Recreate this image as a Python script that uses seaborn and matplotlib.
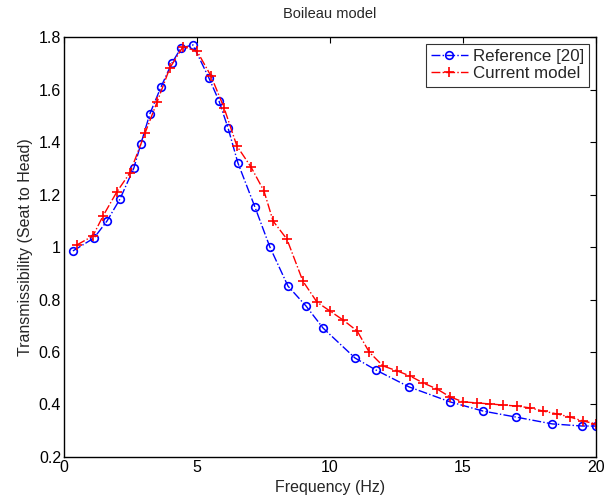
import matplotlib
matplotlib.use("Agg")
import matplotlib.pyplot as plt
import seaborn as sns
import pandas as pd

ref_freq = [0.34, 1.13, 1.62, 2.11, 2.63, 2.89, 3.23, 3.65, 4.06, 4.40, 4.85, 5.45, 5.83,
            6.17, 6.54, 7.18, 7.74, 8.42, 9.10, 9.74, 10.94, 11.73, 12.97, 14.51, 15.75,
            16.99, 18.35, 19.47, 20.0]
ref_trans = [0.985, 1.034, 1.099, 1.183, 1.301, 1.392, 1.507, 1.610, 1.701, 1.758, 1.770,
             1.644, 1.556, 1.453, 1.320, 1.152, 1.000, 0.851, 0.775, 0.691, 0.577, 0.531,
             0.467, 0.410, 0.375, 0.352, 0.326, 0.318, 0.318]

cur_freq = [0.49, 1.09, 1.47, 1.99, 2.48, 3.05, 3.50, 3.98, 4.47, 5.0, 5.53, 6.02, 6.50,
            7.03, 7.52, 7.86, 8.38, 8.98, 9.51, 10.0, 10.49, 11.02, 11.47, 11.99, 12.52,
            13.0, 13.5, 14.02, 14.51, 15.0, 15.53, 16.02, 16.5, 17.03, 17.52, 18.0, 18.53,
            19.02, 19.51, 20.0]
cur_trans = [1.008, 1.042, 1.118, 1.210, 1.282, 1.434, 1.552, 1.682, 1.762, 1.747, 1.651,
             1.530, 1.385, 1.305, 1.213, 1.099, 1.030, 0.870, 0.790, 0.756, 0.722, 0.680,
             0.600, 0.547, 0.528, 0.509, 0.482, 0.459, 0.429, 0.410, 0.406, 0.402, 0.398,
             0.394, 0.387, 0.375, 0.364, 0.352, 0.337, 0.326]

x_ticks = [0, 5, 10, 15, 20]
y_ticks = [0.2, 0.4, 0.6, 0.8, 1.0, 1.2, 1.4, 1.6, 1.8]
y_labels = ["0.2", "0.4", "0.6", "0.8", "1", "1.2", "1.4", "1.6", "1.8"]

sns.set_theme(style="white")
plt.rcParams['font.family'] = ['Liberation Sans', 'DejaVu Sans']

fig = plt.figure(figsize=(6.14, 4.97), dpi=100)
ax = fig.add_axes([0.104, 0.0805, 0.867, 0.845])

df_ref = pd.DataFrame({"f": ref_freq, "t": ref_trans})
df_cur = pd.DataFrame({"f": cur_freq, "t": cur_trans})

sns.lineplot(data=df_ref, x="f", y="t", ax=ax, color="#0000ff", linestyle="-.",
             linewidth=1.0, marker="o", markersize=5.5, markerfacecolor="none",
             markeredgecolor="#0000ff", markeredgewidth=1.2, label="Reference [20]")
sns.lineplot(data=df_cur, x="f", y="t", ax=ax, color="#ff0000", linestyle="-.",
             linewidth=1.0, marker="+", markersize=7, markeredgewidth=1.2,
             markeredgecolor="#ff0000", label="Current model")

ax.set_xlim(0, 20)
ax.set_ylim(0.2, 1.8)
ax.set_xticks(x_ticks)
ax.set_xticklabels([str(v) for v in x_ticks])
ax.set_yticks(y_ticks)
ax.set_yticklabels(y_labels)
ax.tick_params(direction="in", length=4, width=0.8, top=True, right=True,
               labelsize=11.5, pad=2, colors="black")
for s in ax.spines.values():
    s.set_color("black")
    s.set_linewidth(1.0)

ax.set_xlabel("Frequency (Hz)", fontsize=11.5, labelpad=4)
ax.set_ylabel("Transmissibility (Seat to Head)", fontsize=11.5, labelpad=4)
ax.set_title("Boileau model", fontsize=10.5, pad=14)

leg = ax.legend(loc="upper right", fontsize=12.2, frameon=True, fancybox=False,
                edgecolor="black", borderpad=0.3, handlelength=2.2, labelspacing=0.15,
                handletextpad=0.3, borderaxespad=0.4)
leg.get_frame().set_linewidth(0.8)

fig.savefig("out.png", dpi=100)
